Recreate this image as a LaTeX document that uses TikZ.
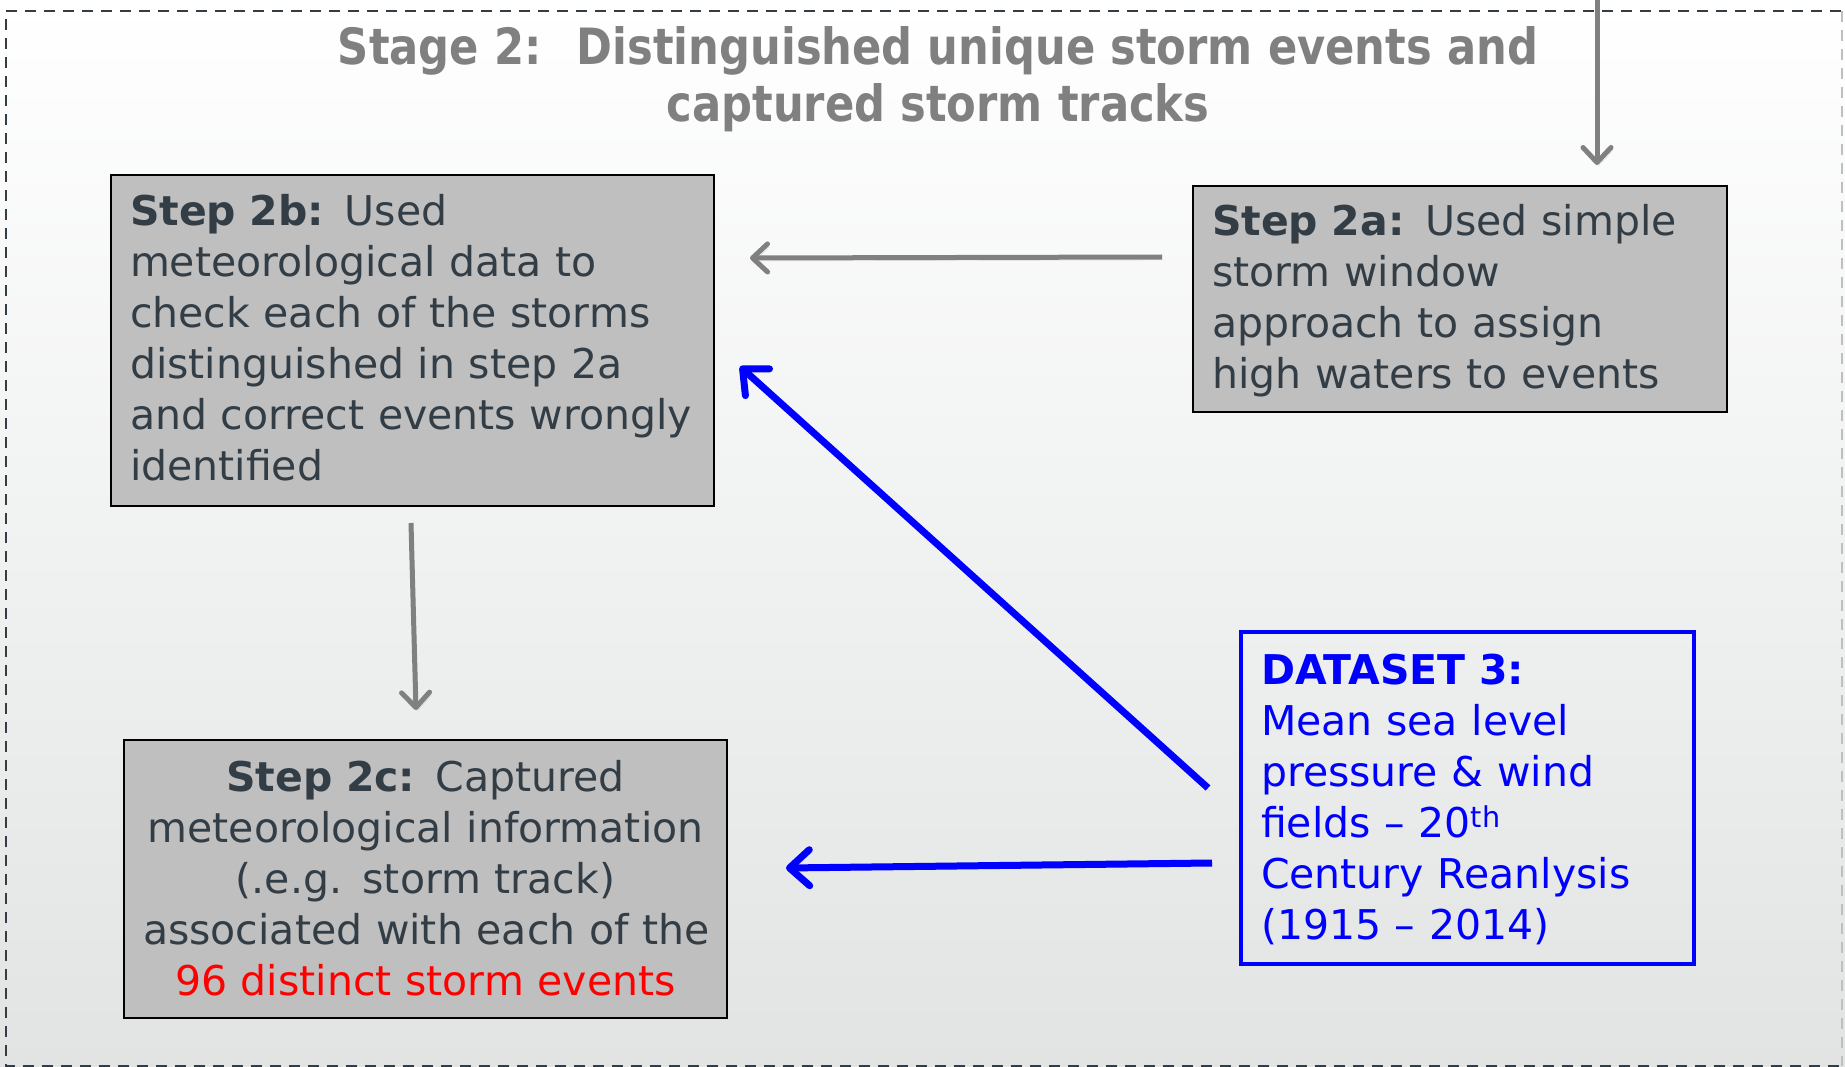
\documentclass[tikz,border=0pt]{standalone}
\usepackage{fontspec}
\setmainfont{DejaVu Sans}
\newfontfamily\titlefont{DejaVu Sans}[FakeStretch=0.865]
\usetikzlibrary{arrows.meta}
\definecolor{boxgray}{RGB}{191,191,191}
\definecolor{txtc}{RGB}{50,61,70}
\definecolor{titlec}{RGB}{128,128,128}
\definecolor{arrgray}{RGB}{128,128,128}
\definecolor{bgbot}{RGB}{226,228,228}
\definecolor{bgmid}{RGB}{247,247,247}
\definecolor{dashc}{RGB}{50,61,70}
\definecolor{dsblue}{RGB}{0,0,255}
\definecolor{hired}{RGB}{255,0,0}
\newcommand\tstr[1]{\rule{0pt}{#1pt}}
\newcommand\bstr[1]{\rule[-#1pt]{0pt}{#1pt}}
\newcommand\lne[1]{\mbox{#1}}
\tikzset{
  stepbox/.style={draw=black, line width=2.5pt, fill=boxgray, text=txtc,
    inner xsep=19pt, inner ysep=0pt, outer sep=0pt,
    font=\fontsize{41}{51}\selectfont, anchor=center},
  dsbox/.style={draw=dsblue, line width=4pt, text=dsblue,
    inner xsep=20pt, inner ysep=0pt, outer sep=0pt,
    font=\fontsize{41}{51}\selectfont, anchor=center},
  arrshadow/.style={preaction={draw=black, draw opacity=0.12, transform canvas={shift={(2pt,-3pt)}}}},
  garrow/.style={arrshadow, draw=arrgray, line width=5pt, -{Straight Barb[length=15pt,width=28pt,round]}},
  barrow/.style={arrshadow, draw=dsblue, line width=7pt, -{Straight Barb[length=20pt,width=36pt,round]}},
}
\begin{document}
\begin{tikzpicture}[x=1pt,y=-1pt]
\useasboundingbox (0,0) rectangle (1845,1067);
\shade[top color=white, middle color=bgmid, bottom color=bgbot] (0,0) rectangle (1845,1067);
\draw[dashc, line width=2pt, dash pattern=on 11pt off 8pt] (1841,11) -- (6,11) -- (6,1066) -- (1841,1066);
\draw[black!25, line width=1.5pt, dash pattern=on 11pt off 8pt] (1842,11) -- (1842,1066);

\node[titlec, font=\titlefont\bfseries\fontsize{50}{57}\selectfont, align=center, anchor=north, inner sep=0pt] (title) at (938,24)
  {\tstr{40}Stage 2:~ Distinguished unique storm events and\\captured storm tracks};

\node[stepbox, minimum width=603pt, minimum height=331pt, text width=565pt, align=left] (b2b) at (412.5,340.5)
  {\tstr{51}\lne{\textbf{Step 2b:} Used}\\
   \lne{meteorological data to}\\
   \lne{check each of the storms}\\
   \lne{distinguished in step 2a}\\
   \lne{and correct events wrongly}\\
   \lne{identified}\bstr{25}};

\node[stepbox, minimum width=534pt, minimum height=226pt, text width=496pt, align=left] (b2a) at (1460,299)
  {\tstr{50}\lne{\textbf{Step 2a:} Used simple}\\
   \lne{storm window}\\
   \lne{approach to assign}\\
   \lne{high waters to events}\bstr{23}};

\node[stepbox, minimum width=603pt, minimum height=278pt, text width=565pt, align=center] (b2c) at (425.5,879)
  {\tstr{51}\lne{\textbf{Step 2c:} Captured}\\
   \lne{meteorological information}\\
   \lne{(.e.g. storm track)}\\
   \lne{associated with each of the}\\
   \lne{\textcolor{hired}{96 distinct storm events}}\bstr{23}};

\node[dsbox, minimum width=453pt, minimum height=332pt, text width=413pt, align=left] (ds) at (1467.5,798)
  {\tstr{52}\lne{\textbf{DATASET 3:}}\\
   \lne{Mean sea level}\\
   \lne{pressure \& wind}\\
   \lne{fields – 20\textsuperscript{th}}\\
   \lne{Century Reanlysis}\\
   \lne{(1915 – 2014)}\bstr{25}};

\coordinate (topin) at (1597,0);
\draw[garrow, shorten >=21pt] (topin) -- (topin |- b2a.north);
\draw[garrow] ([xshift=-31pt, yshift=42pt]b2a.west) -- ([xshift=36pt, yshift=82.5pt]b2b.east);
\draw[garrow] ([xshift=-1.5pt, yshift=-17pt]b2b.south) -- ([xshift=-9.5pt, yshift=30pt]b2c.north);
\draw[barrow] ([xshift=-33pt, yshift=10pt]ds.west) -- ([xshift=26pt, yshift=-26pt]b2b.east);
\draw[barrow] ([xshift=-29pt, yshift=-65pt]ds.west) -- ([xshift=59pt, yshift=11pt]b2c.east);
\end{tikzpicture}
\end{document}
